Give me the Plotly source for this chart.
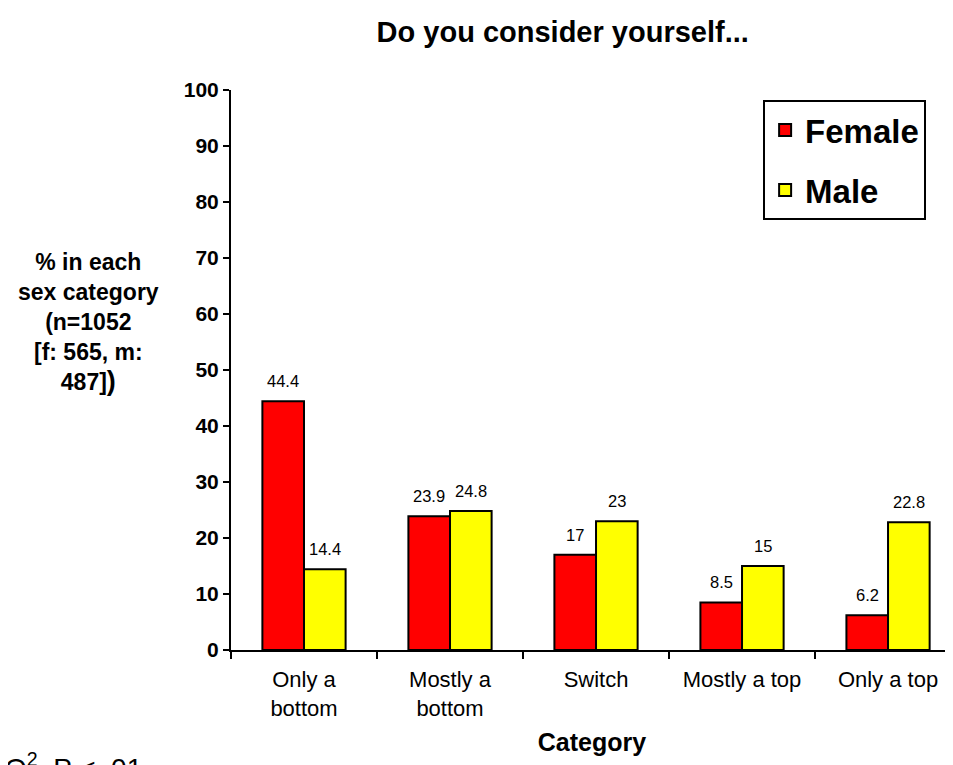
import plotly.graph_objects as go

categories = ["Only a<br>bottom", "Mostly a<br>bottom", "Switch", "Mostly a top", "Only a top"]
female = [44.4, 23.9, 17, 8.5, 6.2]
male = [14.4, 24.8, 23, 15, 22.8]
female_labels = ["44.4", "23.9", "17", "8.5", "6.2"]
male_labels = ["14.4", "24.8", "23", "15", "22.8"]

FONT = "Liberation Sans, Arial, sans-serif"

fig = go.Figure()
fig.add_trace(go.Bar(
    x=categories, y=female, name="<b>Female</b>", legendgroup="f",
    marker=dict(color="#ff0000", line=dict(color="black", width=2)),
))
fig.add_trace(go.Bar(
    x=categories, y=male, name="<b>Male</b>", legendgroup="m",
    marker=dict(color="#ffff00", line=dict(color="black", width=2)),
))

# value labels above each bar
annotations = []
half = 146 * (1 - 0.43) / 4
for cat, v, t in zip(categories, female, female_labels):
    annotations.append(dict(x=cat, y=v, text=t, xshift=-half, yshift=9, yanchor="bottom",
                            showarrow=False, font=dict(size=16.5, family=FONT)))
for cat, v, t in zip(categories, male, male_labels):
    annotations.append(dict(x=cat, y=v, text=t, xshift=half, yshift=9, yanchor="bottom",
                            showarrow=False, font=dict(size=16.5, family=FONT)))

annotations.append(dict(
    text="<b>% in each<br>sex category<br>(n=1052<br>[f: 565, m:<br>487]<span style='font-size:27px'>)</span></b>",
    xref="paper", yref="paper", x=-0.198, y=0.584, xanchor="center", yanchor="middle",
    showarrow=False, font=dict(size=23, family=FONT), align="center"))
annotations.append(dict(
    text="O<sup>2</sup>  P < .01", xref="paper", yref="paper",
    x=-0.316, y=-0.172, xanchor="left", yanchor="top",
    showarrow=False, font=dict(size=28, family=FONT)))

fig.update_layout(
    width=945, height=757,
    margin=dict(l=223, r=0, t=82, b=115),
    plot_bgcolor="white", paper_bgcolor="white",
    barmode="group", bargap=0.43, bargroupgap=0,
    font=dict(family=FONT, color="black"),
    title=dict(text="<b>Do you consider yourself...</b>", x=0.587, xanchor="center",
               y=0.968, yanchor="middle", font=dict(size=29, family=FONT)),
    xaxis=dict(
        type="category", range=[-0.5, 4.445], tickson="boundaries",
        ticks="outside", ticklen=7, tickwidth=2, tickcolor="black",
        showline=True, linecolor="black", linewidth=2, showgrid=False,
        tickangle=0, automargin=False, ticklabelstandoff=9,
        tickfont=dict(size=22, family=FONT),
        title=dict(text="<b>Category</b>", font=dict(size=25, family=FONT), standoff=13),
    ),
    yaxis=dict(
        range=[0, 100], dtick=10, ticks="outside", ticklen=6, tickwidth=2,
        tickcolor="black", showline=True, linecolor="black", linewidth=2,
        showgrid=False, zeroline=False, automargin=False,
        tickfont=dict(size=21, family=FONT), tickprefix="<b>", ticksuffix="</b>",
    ),
    legend=dict(
        x=0.737, y=0.982, xanchor="left", yanchor="top",
        bordercolor="black", borderwidth=2, bgcolor="white",
        font=dict(size=33, family=FONT), itemwidth=30,
        tracegroupgap=14,
    ),
    annotations=annotations,
)

fig.write_html("out.html")
